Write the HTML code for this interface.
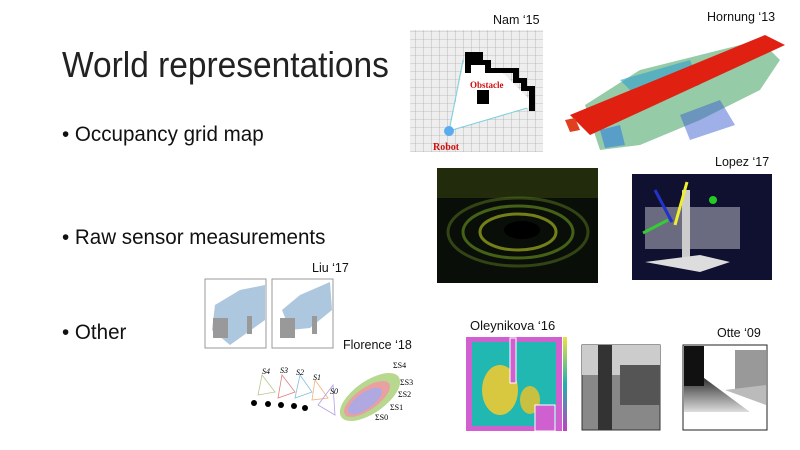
<!DOCTYPE html>
<html><head><meta charset="utf-8"><style>
body{margin:0;width:800px;height:450px;background:#fff;position:relative;overflow:hidden;font-family:"Liberation Sans",sans-serif;color:#111}
.a{position:absolute;white-space:nowrap}
.t{font-size:36px;font-weight:300;left:62px;top:44px;transform-origin:left top;transform:scaleX(0.93);color:#222}
.b{font-size:21px;left:62px;transform-origin:left top;transform:scaleX(0.98)}
.l{font-size:12.5px;color:#111}
</style></head><body>
<div class="a t">World representations</div>
<div class="a b" style="top:123px">• Occupancy grid map</div>
<div class="a b" style="top:226px">• Raw sensor measurements</div>
<div class="a b" style="top:321px">• Other</div>

<div class="a l" style="left:493px;top:13px">Nam ‘15</div>
<div class="a l" style="left:707px;top:10px">Hornung ‘13</div>
<div class="a l" style="left:715px;top:155px">Lopez ‘17</div>
<div class="a l" style="left:312px;top:261px">Liu ‘17</div>
<div class="a l" style="left:343px;top:338px">Florence ‘18</div>
<div class="a l" style="left:470px;top:318px;font-size:13px">Oleynikova ‘16</div>
<div class="a l" style="left:717px;top:326px">Otte ‘09</div>

<svg class="a" style="left:0;top:0" width="800" height="450">
<defs>
<pattern id="g" width="8" height="8" patternUnits="userSpaceOnUse"><rect width="8" height="8" fill="#eee"/><path d="M8 0V8H0" fill="none" stroke="#999" stroke-width="0.6"/></pattern>
<linearGradient id="ol" x1="0" y1="1" x2="0" y2="0"><stop offset="0" stop-color="#c040c0"/><stop offset=".5" stop-color="#20b0b0"/><stop offset="1" stop-color="#f0e040"/></linearGradient>
<linearGradient id="ot" x1="0" y1="0" x2="0" y2="1"><stop offset="0" stop-color="#222"/><stop offset="1" stop-color="#ddd"/></linearGradient>
</defs>
<!-- Nam grid -->
<rect x="410" y="30" width="133" height="122" fill="url(#g)"/>
<polygon points="465,57 500,70 530,100 528,108 450,130" fill="#fff"/>
<path d="M465,52h18v8h8v8h28v10h8v8h8v25h-6v-20h-8v-8h-8v-10h-28v-8h-14v8h-6z" fill="#000"/>
<rect x="477" y="90" width="12" height="14" fill="#000"/>
<path d="M463,60L449,131L527,108" fill="none" stroke="#7cd0e0" stroke-width="1"/>
<circle cx="449" cy="131" r="5" fill="#5aacf0"/>
<text x="470" y="88" fill="#d01010" font-family="Liberation Serif" font-weight="bold" font-size="9">Obstacle</text>
<text x="433" y="150" fill="#d01010" font-family="Liberation Serif" font-weight="bold" font-size="10">Robot</text>
<!-- Hornung -->
<polygon points="585,105 640,70 700,55 760,40 780,60 760,90 700,120 640,145 600,150" fill="#40a060" opacity=".55"/>
<polygon points="620,80 690,60 700,85 640,100" fill="#30a0d0" opacity=".6"/>
<polygon points="680,115 720,100 735,125 690,140" fill="#4060d0" opacity=".5"/>
<polygon points="600,130 620,125 625,145 605,148" fill="#3080e0" opacity=".6"/>
<polygon points="570,115 765,35 785,45 590,135" fill="#e02010"/>
<polygon points="565,120 575,118 580,130 570,132" fill="#e04020"/>
<!-- lidar -->
<rect x="437" y="168" width="161" height="115" fill="#0a0e08"/>
<rect x="437" y="168" width="161" height="30" fill="#3a4a10" opacity=".5"/>
<ellipse cx="518" cy="232" rx="70" ry="34" fill="none" stroke="#5a7a20" stroke-width="3" opacity=".5"/>
<ellipse cx="518" cy="232" rx="55" ry="26" fill="none" stroke="#6a9a20" stroke-width="3" opacity=".6"/>
<ellipse cx="518" cy="232" rx="38" ry="18" fill="none" stroke="#a0b020" stroke-width="3" opacity=".7"/>
<ellipse cx="522" cy="230" rx="18" ry="9" fill="#000"/>
<!-- Lopez -->
<rect x="632" y="174" width="140" height="106" fill="#101030"/>
<rect x="645" y="207" width="55" height="42" fill="#6a6a80"/>
<rect x="700" y="207" width="40" height="42" fill="#6a6a80"/>
<rect x="682" y="190" width="8" height="70" fill="#ccc"/>
<polygon points="645,262 700,255 730,262 700,272" fill="#ddd"/>
<circle cx="713" cy="200" r="4" fill="#2c2"/>
<path d="M675,225L687,182" stroke="#ee3" stroke-width="3"/>
<path d="M655,190L672,222" stroke="#23c" stroke-width="3"/>
<path d="M643,233L668,220" stroke="#3c3" stroke-width="3"/>
<!-- Liu -->
<rect x="205" y="279" width="61" height="69" fill="#fff" stroke="#999"/>
<rect x="272" y="279" width="61" height="69" fill="#fff" stroke="#999"/>
<polygon points="215,305 240,290 265,285 265,320 230,345 212,330" fill="#5b8fc0" opacity=".5"/>
<polygon points="282,310 300,295 330,282 332,310 310,328 290,330" fill="#5b8fc0" opacity=".5"/>
<rect x="213" y="318" width="15" height="20" fill="#999"/><rect x="247" y="316" width="5" height="18" fill="#999"/>
<rect x="280" y="318" width="15" height="20" fill="#999"/><rect x="312" y="316" width="5" height="18" fill="#999"/>
<!-- Florence -->
<g fill="none" stroke-width="0.8">
<polygon points="262,375 275,392 258,395" stroke="#b5c890"/>
<polygon points="282,375 295,392 278,398" stroke="#e08080"/>
<polygon points="300,375 312,392 295,398" stroke="#80c0e0"/>
<polygon points="315,380 328,398 312,400" stroke="#f0b080"/>
<polygon points="333,385 335,415 318,405" stroke="#b0a0e0"/>
</g>
<g font-family="Liberation Serif" font-style="italic" font-size="8"><text x="262" y="374">S4</text><text x="280" y="373">S3</text><text x="296" y="375">S2</text><text x="313" y="380">S1</text><text x="330" y="394">S0</text></g>
<g fill="#000"><circle cx="254" cy="403" r="3"/><circle cx="268" cy="404" r="3"/><circle cx="281" cy="405" r="3"/><circle cx="294" cy="406" r="3"/><circle cx="305" cy="408" r="3"/></g>
<ellipse cx="370" cy="397" rx="35" ry="16" transform="rotate(-35 370 397)" fill="#b8d890"/>
<ellipse cx="367" cy="399" rx="27" ry="11" transform="rotate(-35 367 399)" fill="#e8a0a0"/>
<ellipse cx="365" cy="401" rx="20" ry="8" transform="rotate(-35 365 401)" fill="#b0a8e0"/>
<text x="393" y="368" font-size="8" font-family="Liberation Serif">ΣS4</text>
<text x="400" y="385" font-size="8" font-family="Liberation Serif">ΣS3</text>
<text x="398" y="397" font-size="8" font-family="Liberation Serif">ΣS2</text>
<text x="390" y="410" font-size="8" font-family="Liberation Serif">ΣS1</text>
<text x="375" y="420" font-size="8" font-family="Liberation Serif">ΣS0</text>
<!-- Oleynikova -->
<rect x="466" y="337" width="96" height="94" fill="#d060d0"/>
<rect x="472" y="342" width="84" height="84" fill="#20b8b0"/>
<ellipse cx="500" cy="390" rx="18" ry="25" fill="#d8c840"/>
<ellipse cx="530" cy="400" rx="10" ry="14" fill="#c8c040"/>
<rect x="510" y="338" width="6" height="45" fill="#d060d0" stroke="#fff"/>
<rect x="535" y="405" width="20" height="26" fill="#d060d0" stroke="#fff"/>
<rect x="563" y="337" width="4" height="94" fill="url(#ol)"/>
<!-- photo -->
<rect x="582" y="345" width="78" height="85" fill="#888" stroke="#333"/>
<rect x="582" y="345" width="78" height="30" fill="#ccc"/>
<rect x="598" y="345" width="14" height="85" fill="#333"/>
<rect x="620" y="365" width="40" height="40" fill="#555"/>
<!-- Otte -->
<rect x="683" y="345" width="84" height="85" fill="#fff" stroke="#222"/>
<polygon points="684,380 700,375 750,412 684,412" fill="url(#ot)"/>
<rect x="684" y="346" width="20" height="40" fill="#111"/>
<rect x="735" y="350" width="31" height="40" fill="#999"/>
<polygon points="725,390 766,385 766,405" fill="#bbb"/>
</svg>
</body></html>
